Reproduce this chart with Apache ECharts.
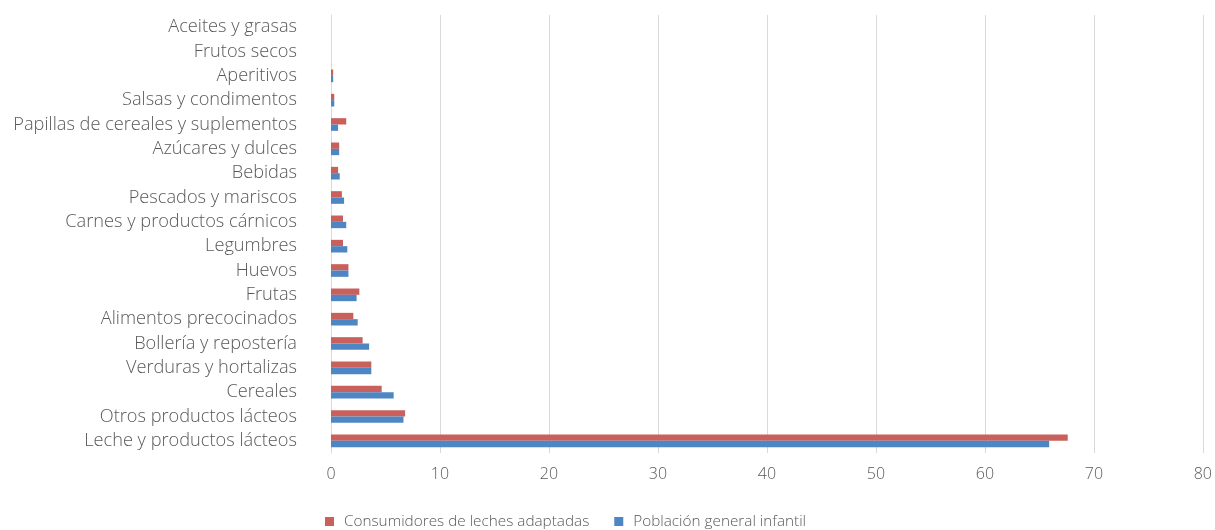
<!DOCTYPE html>
<html>
<head>
<meta charset="utf-8">
<script src="https://cdn.jsdelivr.net/npm/echarts@6/dist/echarts.min.js"></script>
<style>
  html, body { margin: 0; padding: 0; background: #fff; }
  #chart { width: 1215px; height: 530px; }
</style>
</head>
<body>
<div id="chart"></div>
<script>
// categorías, de abajo hacia arriba
const categories = [
  'Leche y productos lácteos',
  'Otros productos lácteos',
  'Cereales',
  'Verduras y hortalizas',
  'Bollería y repostería',
  'Alimentos precocinados',
  'Frutas',
  'Huevos',
  'Legumbres',
  'Carnes y productos cárnicos',
  'Pescados y mariscos',
  'Bebidas',
  'Azúcares y dulces',
  'Papillas de cereales y suplementos',
  'Salsas y condimentos',
  'Aperitivos',
  'Frutos secos',
  'Aceites y grasas'
]

const consumidores = [67.6, 6.8, 4.65, 3.7, 2.9, 2.05, 2.6, 1.6, 1.1, 1.1, 1.0, 0.65, 0.75, 1.4, 0.3, 0.2, 0, 0]
const poblacion = [65.9, 6.65, 5.75, 3.7, 3.5, 2.45, 2.35, 1.6, 1.5, 1.4, 1.2, 0.8, 0.75, 0.65, 0.3, 0.2, 0, 0]

const seriesNames = ['Consumidores de leches adaptadas', 'Población general infantil']
const xTicks = [0, 10, 20, 30, 40, 50, 60, 70, 80]

const font = 'Open Sans'
const textColor = '#595959'

const chart = echarts.init(document.getElementById('chart'))

chart.setOption({
  backgroundColor: '#fff',
  animation: false,
  textStyle: { fontFamily: font },
  grid: { left: 331, right: 9, top: 15, bottom: 77, containLabel: false },
  legend: {
    data: seriesNames,
    left: 325,
    top: 514,
    padding: 0,
    itemWidth: 9,
    itemHeight: 9,
    itemGap: 25,
    icon: 'rect',
    textStyle: { color: textColor, fontSize: 15.3, fontWeight: 300, fontFamily: font, padding: [0, 0, 0, 5] }
  },
  xAxis: {
    type: 'value',
    min: xTicks[0],
    max: xTicks[xTicks.length - 1],
    interval: 10,
    axisLine: { show: false },
    axisTick: { show: false },
    axisLabel: { color: textColor, fontSize: 16, fontWeight: 300, margin: 13, fontFamily: font },
    splitLine: { lineStyle: { color: '#d9d9d9', width: 1 } }
  },
  yAxis: {
    type: 'category',
    data: categories,
    axisLine: { show: true, lineStyle: { color: '#d9d9d9', width: 1 } },
    axisTick: { show: false },
    axisLabel: { color: textColor, fontSize: 18.2, fontWeight: 300, margin: 34, fontFamily: font }
  },
  series: [
    {
      name: seriesNames[0],
      type: 'bar',
      data: consumidores,
      barGap: '0%',
      barCategoryGap: '48%',
      itemStyle: { color: '#c9605c' }
    },
    {
      name: seriesNames[1],
      type: 'bar',
      data: poblacion,
      barGap: '0%',
      barCategoryGap: '48%',
      itemStyle: { color: '#4e86c4' }
    }
  ]
})
</script>
</body>
</html>
